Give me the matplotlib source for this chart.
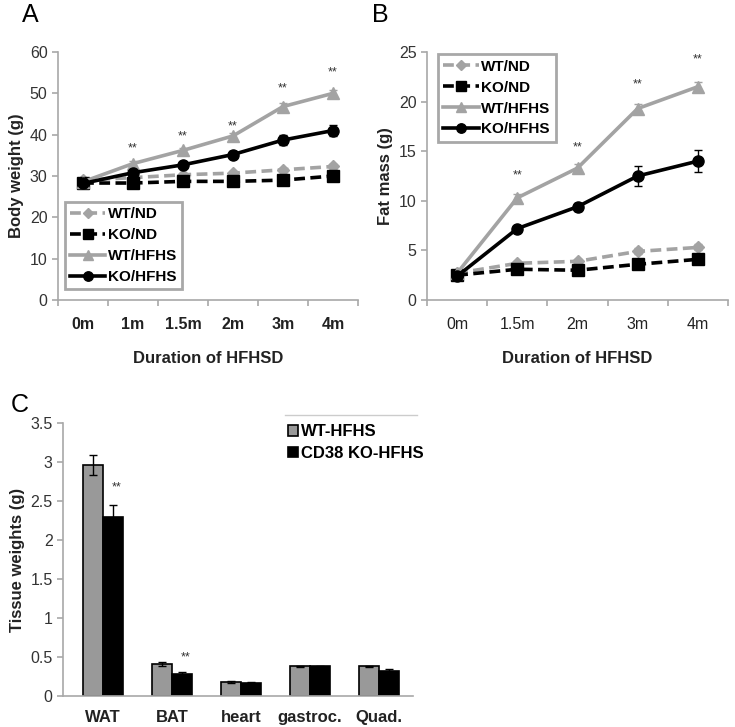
import matplotlib
matplotlib.use("Agg")
from matplotlib import pyplot as plt
import numpy as np

plt.rcParams['font.family'] = ['Liberation Sans', 'DejaVu Sans']

# ---- panel A: body weight
months_a = ['0m', '1m', '1.5m', '2m', '3m', '4m']
wt_nd_a = [29.0, 29.6, 30.3, 30.7, 31.5, 32.3]
ko_nd_a = [28.3, 28.3, 28.7, 28.7, 29.0, 30.0]
wt_hf_a = [28.6, 33.0, 36.2, 39.7, 46.8, 50.0]
ko_hf_a = [28.2, 30.8, 32.7, 35.2, 38.7, 41.0]
wt_nd_a_err = [0.4, 0.4, 0.4, 0.4, 0.5, 0.5]
ko_nd_a_err = [0.4, 0.4, 0.4, 0.4, 0.5, 0.5]
wt_hf_a_err = [0.5, 0.6, 0.6, 0.7, 0.8, 0.8]
ko_hf_a_err = [0.5, 0.8, 0.8, 0.8, 1.3, 1.4]
stars_a = [None, 36.6, 39.6, 42.0, 51.3, 55.0]

# ---- panel B: fat mass
months_b = ['0m', '1.5m', '2m', '3m', '4m']
wt_nd_b = [2.7, 3.7, 3.9, 4.9, 5.3]
ko_nd_b = [2.5, 3.1, 3.0, 3.6, 4.1]
wt_hf_b = [2.7, 10.3, 13.3, 19.3, 21.5]
ko_hf_b = [2.4, 7.2, 9.4, 12.5, 14.0]
wt_nd_b_err = [0.1, 0.2, 0.2, 0.3, 0.3]
ko_nd_b_err = [0.1, 0.2, 0.2, 0.2, 0.2]
wt_hf_b_err = [0.1, 0.4, 0.4, 0.5, 0.5]
ko_hf_b_err = [0.1, 0.3, 0.4, 1.0, 1.1]
stars_b = [None, 12.55, 15.4, 21.7, 24.3]

# ---- panel C: tissue weights
tissues = ['WAT', 'BAT', 'heart', 'gastroc.', 'Quad.']
wt_c = [2.96, 0.41, 0.18, 0.38, 0.38]
ko_c = [2.30, 0.28, 0.17, 0.38, 0.32]
wt_c_err = [0.13, 0.02, 0.01, 0.01, 0.01]
ko_c_err = [0.15, 0.03, 0.005, 0.005, 0.03]
stars_c = [2.67, 0.5, None, None, None]

gray = '#a3a3a3'
axgray = '#a8a8a8'
txt = '#222222'

fig = plt.figure(figsize=(7.35, 7.27), dpi=100)


def px(l, t, r, b):
    return [l / 735, 1 - b / 727, (r - l) / 735, (b - t) / 727]


def style_axes(ax):
    for s in ['top', 'right']:
        ax.spines[s].set_visible(False)
    for s in ['left', 'bottom']:
        ax.spines[s].set_color(axgray)
        ax.spines[s].set_linewidth(1.2)
    ax.tick_params(axis='both', which='both', colors=axgray, width=1.2, length=4)
    ax.tick_params(axis='y', labelcolor='#333333', labelsize=11.5)
    ax.tick_params(axis='x', which='both', labelcolor=txt)


def line_panel(ax, cats, series, errs, stars, ymax, ystep, bold_x):
    x = np.arange(len(cats))
    specs = [(gray, '--', 'D', 6, 'WT/ND'),
             ('black', '--', 's', 8, 'KO/ND'),
             (gray, '-', '^', 8, 'WT/HFHS'),
             ('black', '-', 'o', 8, 'KO/HFHS')]
    for (c, ls, m, ms, lab), y, e in zip(specs, series, errs):
        ax.errorbar(x, y, yerr=e, color=c, ls=ls, marker=m, ms=ms, lw=2.6,
                    elinewidth=1, capsize=3, label=lab, dashes=(3, 1.5) if ls == '--' else None)
    for xi, s in zip(x, stars):
        if s is not None:
            ax.text(xi, s, '**', ha='center', va='center', fontsize=9, color='#333333')
    ax.set_xlim(-0.5, len(cats) - 0.5)
    ax.set_ylim(0, ymax)
    ax.set_yticks(np.arange(0, ymax + 0.1, ystep))
    ax.set_xticks(np.arange(-0.5, len(cats)), minor=False)
    ax.set_xticklabels([])
    ax.set_xticks(x, minor=True)
    ax.set_xticklabels(cats, minor=True, fontsize=11.5,
                       fontweight='bold' if bold_x else 'normal')
    style_axes(ax)
    ax.tick_params(axis='x', which='minor', length=0, pad=12)
    ax.set_xlabel('Duration of HFHSD', fontsize=12, fontweight='bold', labelpad=14, color=txt)


def make_legend(ax, loc_box):
    h, l = ax.get_legend_handles_labels()
    h = [hh[0] for hh in h]
    leg = ax.legend(h, l, loc='upper left', bbox_to_anchor=loc_box,
                    prop={'weight': 'bold', 'size': 11}, handlelength=2.3,
                    fancybox=False, framealpha=1, borderpad=0.35, labelspacing=0.45,
                    handletextpad=0.15, borderaxespad=0, markerscale=0.85)
    leg.get_frame().set_edgecolor(axgray)
    leg.get_frame().set_linewidth(2)


# A
axA = fig.add_axes(px(58, 52, 358, 300))
line_panel(axA, months_a, [wt_nd_a, ko_nd_a, wt_hf_a, ko_hf_a],
           [wt_nd_a_err, ko_nd_a_err, wt_hf_a_err, ko_hf_a_err], stars_a, 60, 10, True)
axA.set_ylabel('Body weight (g)', fontsize=12, fontweight='bold', color=txt)
make_legend(axA, (0.023, 0.395))

# B
axB = fig.add_axes(px(427, 52, 728, 300))
line_panel(axB, months_b, [wt_nd_b, ko_nd_b, wt_hf_b, ko_hf_b],
           [wt_nd_b_err, ko_nd_b_err, wt_hf_b_err, ko_hf_b_err], stars_b, 25, 5, False)
axB.set_ylabel('Fat mass (g)', fontsize=12, fontweight='bold', color=txt)
make_legend(axB, (0.037, 0.99))

# C
axC = fig.add_axes(px(63, 423, 413, 696))
xc = np.arange(len(tissues))
w = 0.29
axC.bar(xc - w / 2, wt_c, w, yerr=wt_c_err, color='#999999', edgecolor='black', lw=1.2,
        capsize=3, error_kw={'elinewidth': 1}, label='WT-HFHS')
axC.bar(xc + w / 2, ko_c, w, yerr=ko_c_err, color='black', edgecolor='black', lw=1.2,
        capsize=3, error_kw={'elinewidth': 1}, label='CD38 KO-HFHS')
for xi, s in zip(xc, stars_c):
    if s is not None:
        axC.text(xi + w / 2 + 0.05, s, '**', ha='center', va='center', fontsize=9, color='#333333')
axC.set_xlim(-0.58, 4.5)
axC.set_ylim(0, 3.5)
axC.set_yticks(np.arange(0, 3.51, 0.5))
axC.set_yticklabels(['0', '0.5', '1', '1.5', '2', '2.5', '3', '3.5'])
axC.set_xticks(xc)
axC.set_xticklabels(tissues, fontsize=12, fontweight='bold')
style_axes(axC)
axC.tick_params(axis='x', length=0, pad=10)
axC.set_ylabel('Tissue weights (g)', fontsize=12, fontweight='bold', color=txt)
legC = axC.legend(loc='upper left', bbox_to_anchor=(0.6, 1.05), frameon=False,
                  prop={'weight': 'bold', 'size': 12}, handlelength=0.6, handleheight=0.6,
                  handletextpad=0.2, labelspacing=0.4)
fig.add_artist(plt.Line2D([285 / 735, 417 / 735], [1 - 415 / 727, 1 - 415 / 727],
                          color='#cccccc', lw=1))

# panel letters
fig.text(30 / 735, 1 - 15 / 727, 'A', fontsize=18, va='center', ha='center')
fig.text(380 / 735, 1 - 15 / 727, 'B', fontsize=18, va='center', ha='center')
fig.text(20 / 735, 1 - 405 / 727, 'C', fontsize=18, va='center', ha='center')

fig.savefig('out.png', dpi=100)
